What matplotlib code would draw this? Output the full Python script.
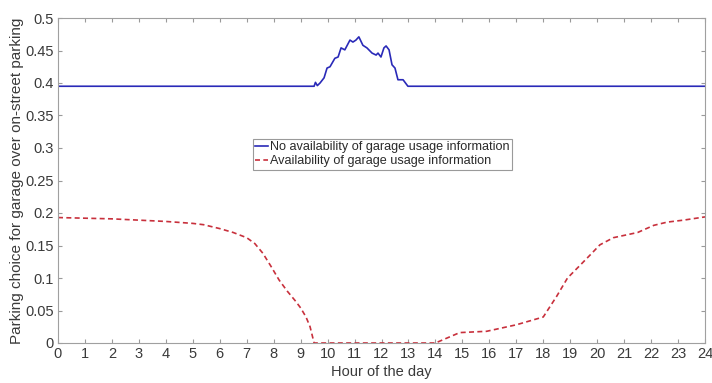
import matplotlib.pyplot as plt

plt.rcParams['font.family'] = ['Liberation Sans', 'DejaVu Sans']

# hourly share choosing the garage, no information available
hours_no_info = [0, 9.5, 9.55, 9.62, 9.72, 9.87, 9.98, 10.09, 10.27, 10.39, 10.5, 10.64,
                 10.83, 10.94, 11.05, 11.16, 11.31, 11.46, 11.65, 11.8, 11.87, 11.98,
                 12.09, 12.17, 12.28, 12.39, 12.5, 12.61, 12.8, 12.98, 24]
share_no_info = [0.395, 0.395, 0.401, 0.396, 0.40, 0.408, 0.423, 0.425, 0.438, 0.44, 0.454,
                 0.451, 0.466, 0.463, 0.466, 0.471, 0.458, 0.454, 0.446, 0.443, 0.446,
                 0.44, 0.454, 0.457, 0.451, 0.428, 0.423, 0.405, 0.405, 0.395, 0.395]

# hourly share choosing the garage, with garage usage information
hours_info = [0, 1, 2, 3, 4, 5, 5.4, 6, 6.5, 7, 7.3, 7.6, 7.9, 8.2, 8.5, 8.8, 9.0, 9.2,
              9.35, 9.5, 14.0, 14.9, 15.9, 17.0, 18.0, 18.5, 18.9, 19.4, 19.8, 20.1,
              20.6, 21.5, 22.1, 22.6, 23.2, 24]
share_info = [0.193, 0.192, 0.191, 0.189, 0.187, 0.184, 0.182, 0.176, 0.170, 0.162, 0.153,
              0.138, 0.118, 0.097, 0.080, 0.065, 0.054, 0.040, 0.025, 0.0, 0.0, 0.016,
              0.018, 0.028, 0.040, 0.072, 0.100, 0.121, 0.138, 0.151, 0.162, 0.170,
              0.181, 0.186, 0.189, 0.194]

fig = plt.figure(figsize=(7.12, 3.83), dpi=100)
ax = fig.add_axes([58 / 712, 40 / 383, 647 / 712, 325 / 383])

ax.plot(hours_no_info, share_no_info, color='#2a2ab8', lw=1.2,
        label='No availability of garage usage information')
ax.plot(hours_info, share_info, color='#c8303c', lw=1.2, ls=(0, (3, 2)),
        label='Availability of garage usage information')

ax.set_xlim(0, 24)
ax.set_ylim(0, 0.5)
ax.set_xticks(range(0, 25))
ax.set_yticks([i * 0.05 for i in range(11)])
ax.set_yticklabels(['0', '0.05', '0.1', '0.15', '0.2', '0.25', '0.3', '0.35',
                    '0.4', '0.45', '0.5'])
ax.tick_params(direction='in', length=3, colors='#9a9a9a', labelcolor='#3a3a3a',
               labelsize=10.5, top=True, right=True, pad=3)
for s in ax.spines.values():
    s.set_color('#a0a0a0')
    s.set_linewidth(0.8)

ax.set_xlabel('Hour of the day', fontsize=10.5, color='#3a3a3a', labelpad=3)
ax.set_ylabel('Parking choice for garage over on-street parking', fontsize=11,
              color='#3a3a3a', labelpad=1)

leg = ax.legend(loc='upper left', bbox_to_anchor=(0.301, 0.628), borderaxespad=0,
                fontsize=9.1, handlelength=1.0, handletextpad=0.15, borderpad=0.2,
                labelspacing=0.15, fancybox=False, framealpha=1)
leg.get_frame().set_edgecolor('#9a9a9a')
leg.get_frame().set_linewidth(0.8)
for t in leg.get_texts():
    t.set_color('#2a2a2a')

fig.savefig('out.png', dpi=100)
